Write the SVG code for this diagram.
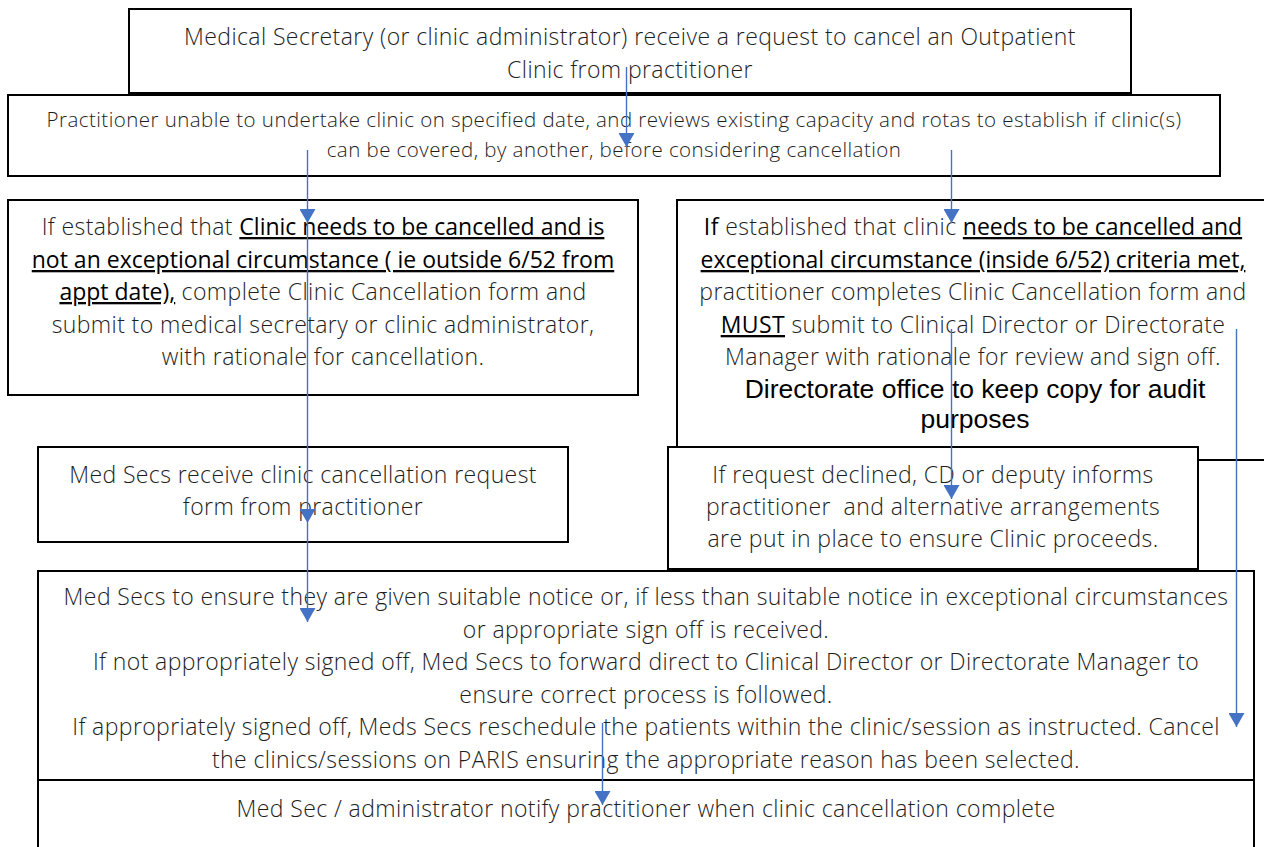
<svg xmlns="http://www.w3.org/2000/svg" width="1264" height="847" viewBox="0 0 1264 847">
<defs>
<style>
.b{fill:#fff;stroke:#000;stroke-width:2}
.t{font-family:"Open Sans",Lato,"Liberation Sans",sans-serif;font-size:23px;letter-spacing:0.4px;fill:#1e1e1e;text-anchor:middle;font-weight:300}
.s{font-size:20.5px;letter-spacing:0.45px}
.em{font-weight:400;fill:#000;text-decoration:underline;letter-spacing:0}
.u{text-decoration:underline;fill:#000;font-weight:400}
.a{font-family:"Liberation Sans",Arial,sans-serif;font-size:26.5px;fill:#000;text-anchor:middle}
.c{fill:none;stroke:#4472C4;stroke-width:1.4}
</style>
<marker id="ah" markerUnits="userSpaceOnUse" markerWidth="14" markerHeight="16" viewBox="0 0 14 16" refX="14" refY="8" orient="auto">
<path d="M0,0 L14,8 L0,16 z" fill="#4472C4"/>
</marker>
</defs>
<rect width="1264" height="847" fill="#fff"/>

<g id="node-request">
<rect class="b" x="129" y="9" width="1002" height="84"/>
<text class="t" x="630" y="45">Medical Secretary (or clinic administrator) receive a request to cancel an Outpatient</text>
<text class="t" x="630" y="78">Clinic from practitioner</text>
</g>

<g id="node-review">
<rect class="b" x="8" y="95" width="1212" height="81"/>
<text class="t s" x="614" y="127">Practitioner unable to undertake clinic on specified date, and reviews existing capacity and rotas to establish if clinic(s)</text>
<text class="t s" x="614" y="157">can be covered, by another, before considering cancellation</text>
</g>

<g id="node-not-exceptional">
<rect class="b" x="8" y="200" width="630" height="195"/>
<text class="t" x="323" y="235">If established that <tspan class="em">Clinic needs to be cancelled and is</tspan></text>
<text class="t" x="323" y="268"><tspan class="em">not an exceptional circumstance ( ie outside 6/52 from</tspan></text>
<text class="t" x="323" y="300"><tspan class="em">appt date),</tspan> complete Clinic Cancellation form and</text>
<text class="t" x="323" y="333">submit to medical secretary or clinic administrator,</text>
<text class="t" x="323" y="365">with rationale for cancellation.</text>
</g>

<g id="node-exceptional">
<rect class="b" x="677" y="200" width="600" height="260"/>
<text class="t" x="973" y="235"><tspan font-weight="400" fill="#000">If</tspan> established that clinic <tspan class="em">needs to be cancelled and</tspan></text>
<text class="t" x="973" y="268"><tspan class="em">exceptional circumstance (inside 6/52) criteria met,</tspan></text>
<text class="t" x="973" y="300">practitioner completes Clinic Cancellation form and</text>
<text class="t" x="973" y="333"><tspan class="u">MUST</tspan> submit to Clinical Director or Directorate</text>
<text class="t" x="973" y="365">Manager with rationale for review and sign off.</text>
<text class="a" x="975" y="398">Directorate office to keep copy for audit</text>
<text class="a" x="975" y="428">purposes</text>
</g>

<g id="node-medsecs-receive">
<rect class="b" x="38" y="447" width="530" height="95"/>
<text class="t" x="303" y="483">Med Secs receive clinic cancellation request</text>
<text class="t" x="303" y="515">form from practitioner</text>
</g>

<g id="node-declined">
<rect class="b" x="668" y="447" width="530" height="122"/>
<text class="t" x="933" y="483">If request declined, CD or deputy informs</text>
<text class="t" x="933" y="515" xml:space="preserve">practitioner  and alternative arrangements</text>
<text class="t" x="933" y="547">are put in place to ensure Clinic proceeds.</text>
</g>

<g id="node-ensure-notice">
<rect class="b" x="38" y="571" width="1216" height="209"/>
<text class="t" x="646" y="605">Med Secs to ensure they are given suitable notice or, if less than suitable notice in exceptional circumstances</text>
<text class="t" x="646" y="638">or appropriate sign off is received.</text>
<text class="t" x="646" y="670">If not appropriately signed off, Med Secs to forward direct to Clinical Director or Directorate Manager to</text>
<text class="t" x="646" y="703">ensure correct process is followed.</text>
<text class="t" x="646" y="735">If appropriately signed off, Meds Secs reschedule the patients within the clinic/session as instructed. Cancel</text>
<text class="t" x="646" y="768">the clinics/sessions on PARIS ensuring the appropriate reason has been selected.</text>
</g>

<g id="node-notify">
<rect class="b" x="38" y="780" width="1216" height="80"/>
<text class="t" x="646" y="817">Med Sec / administrator notify practitioner when clinic cancellation complete</text>
</g>

<g id="connectors">
<path class="c" d="M626.5,67 V147" marker-end="url(#ah)"/>
<path class="c" d="M307.5,150 V223" marker-end="url(#ah)"/>
<path class="c" d="M307.5,223 V523" marker-end="url(#ah)"/>
<path class="c" d="M307.5,523 V622" marker-end="url(#ah)"/>
<path class="c" d="M951.5,150 V223" marker-end="url(#ah)"/>
<path class="c" d="M951.5,329 V499" marker-end="url(#ah)"/>
<path class="c" d="M1236.5,329 V727" marker-end="url(#ah)"/>
<path class="c" d="M602.5,723 V805" marker-end="url(#ah)"/>
</g>
</svg>
